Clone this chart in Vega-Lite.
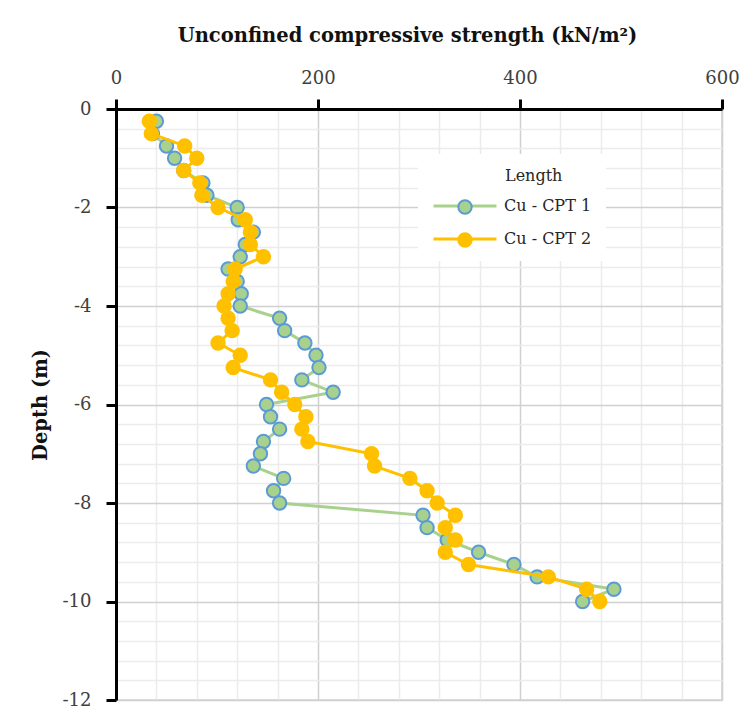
{
  "$schema": "https://vega.github.io/schema/vega-lite/v6.json",
  "autosize": "none",
  "width": 606,
  "height": 591,
  "padding": {"left": 116, "top": 109, "right": 29, "bottom": 26},
  "background": "white",
  "config": {"view": {"stroke": "#d4d4d4", "strokeWidth": 1.5}},
  "data": {"values": [
    {"series": "Cu - CPT 1", "depth": -0.25, "cu": 40},
    {"series": "Cu - CPT 1", "depth": -0.5, "cu": 36},
    {"series": "Cu - CPT 1", "depth": -0.75, "cu": 50},
    {"series": "Cu - CPT 1", "depth": -1.0, "cu": 58},
    {"series": "Cu - CPT 1", "depth": -1.25, "cu": 67},
    {"series": "Cu - CPT 1", "depth": -1.5, "cu": 86},
    {"series": "Cu - CPT 1", "depth": -1.75, "cu": 90},
    {"series": "Cu - CPT 1", "depth": -2.0, "cu": 120},
    {"series": "Cu - CPT 1", "depth": -2.25, "cu": 121},
    {"series": "Cu - CPT 1", "depth": -2.5, "cu": 136},
    {"series": "Cu - CPT 1", "depth": -2.75, "cu": 128},
    {"series": "Cu - CPT 1", "depth": -3.0, "cu": 123},
    {"series": "Cu - CPT 1", "depth": -3.25, "cu": 111},
    {"series": "Cu - CPT 1", "depth": -3.5, "cu": 120},
    {"series": "Cu - CPT 1", "depth": -3.75, "cu": 124},
    {"series": "Cu - CPT 1", "depth": -4.0, "cu": 123},
    {"series": "Cu - CPT 1", "depth": -4.25, "cu": 162},
    {"series": "Cu - CPT 1", "depth": -4.5, "cu": 167},
    {"series": "Cu - CPT 1", "depth": -4.75, "cu": 187},
    {"series": "Cu - CPT 1", "depth": -5.0, "cu": 198},
    {"series": "Cu - CPT 1", "depth": -5.25, "cu": 201},
    {"series": "Cu - CPT 1", "depth": -5.5, "cu": 184},
    {"series": "Cu - CPT 1", "depth": -5.75, "cu": 215},
    {"series": "Cu - CPT 1", "depth": -6.0, "cu": 149},
    {"series": "Cu - CPT 1", "depth": -6.25, "cu": 153},
    {"series": "Cu - CPT 1", "depth": -6.5, "cu": 162},
    {"series": "Cu - CPT 1", "depth": -6.75, "cu": 146},
    {"series": "Cu - CPT 1", "depth": -7.0, "cu": 143},
    {"series": "Cu - CPT 1", "depth": -7.25, "cu": 136},
    {"series": "Cu - CPT 1", "depth": -7.5, "cu": 166},
    {"series": "Cu - CPT 1", "depth": -7.75, "cu": 156},
    {"series": "Cu - CPT 1", "depth": -8.0, "cu": 162},
    {"series": "Cu - CPT 1", "depth": -8.25, "cu": 304},
    {"series": "Cu - CPT 1", "depth": -8.5, "cu": 308},
    {"series": "Cu - CPT 1", "depth": -8.75, "cu": 328},
    {"series": "Cu - CPT 1", "depth": -9.0, "cu": 359},
    {"series": "Cu - CPT 1", "depth": -9.25, "cu": 394},
    {"series": "Cu - CPT 1", "depth": -9.5, "cu": 417},
    {"series": "Cu - CPT 1", "depth": -9.75, "cu": 493},
    {"series": "Cu - CPT 1", "depth": -10.0, "cu": 462},
    {"series": "Cu - CPT 2", "depth": -0.25, "cu": 33},
    {"series": "Cu - CPT 2", "depth": -0.5, "cu": 35},
    {"series": "Cu - CPT 2", "depth": -0.75, "cu": 68},
    {"series": "Cu - CPT 2", "depth": -1.0, "cu": 80},
    {"series": "Cu - CPT 2", "depth": -1.25, "cu": 67},
    {"series": "Cu - CPT 2", "depth": -1.5, "cu": 83},
    {"series": "Cu - CPT 2", "depth": -1.75, "cu": 85},
    {"series": "Cu - CPT 2", "depth": -2.0, "cu": 101},
    {"series": "Cu - CPT 2", "depth": -2.25, "cu": 128},
    {"series": "Cu - CPT 2", "depth": -2.5, "cu": 133},
    {"series": "Cu - CPT 2", "depth": -2.75, "cu": 133},
    {"series": "Cu - CPT 2", "depth": -3.0, "cu": 146},
    {"series": "Cu - CPT 2", "depth": -3.25, "cu": 118},
    {"series": "Cu - CPT 2", "depth": -3.5, "cu": 116},
    {"series": "Cu - CPT 2", "depth": -3.75, "cu": 111},
    {"series": "Cu - CPT 2", "depth": -4.0, "cu": 107},
    {"series": "Cu - CPT 2", "depth": -4.25, "cu": 111},
    {"series": "Cu - CPT 2", "depth": -4.5, "cu": 115},
    {"series": "Cu - CPT 2", "depth": -4.75, "cu": 101},
    {"series": "Cu - CPT 2", "depth": -5.0, "cu": 123},
    {"series": "Cu - CPT 2", "depth": -5.25, "cu": 116},
    {"series": "Cu - CPT 2", "depth": -5.5, "cu": 153},
    {"series": "Cu - CPT 2", "depth": -5.75, "cu": 164},
    {"series": "Cu - CPT 2", "depth": -6.0, "cu": 177},
    {"series": "Cu - CPT 2", "depth": -6.25, "cu": 188},
    {"series": "Cu - CPT 2", "depth": -6.5, "cu": 184},
    {"series": "Cu - CPT 2", "depth": -6.75, "cu": 190},
    {"series": "Cu - CPT 2", "depth": -7.0, "cu": 253},
    {"series": "Cu - CPT 2", "depth": -7.25, "cu": 256},
    {"series": "Cu - CPT 2", "depth": -7.5, "cu": 291},
    {"series": "Cu - CPT 2", "depth": -7.75, "cu": 308},
    {"series": "Cu - CPT 2", "depth": -8.0, "cu": 318},
    {"series": "Cu - CPT 2", "depth": -8.25, "cu": 336},
    {"series": "Cu - CPT 2", "depth": -8.5, "cu": 326},
    {"series": "Cu - CPT 2", "depth": -8.75, "cu": 336},
    {"series": "Cu - CPT 2", "depth": -9.0, "cu": 326},
    {"series": "Cu - CPT 2", "depth": -9.25, "cu": 349},
    {"series": "Cu - CPT 2", "depth": -9.5, "cu": 428},
    {"series": "Cu - CPT 2", "depth": -9.75, "cu": 466},
    {"series": "Cu - CPT 2", "depth": -10.0, "cu": 479}
  ]},
  "encoding": {
    "x": {
      "field": "cu", "type": "quantitative",
      "scale": {"domain": [0, 600], "nice": false, "zero": false},
      "axis": {
        "orient": "top",
        "title": "Unconfined compressive strength (kN/m²)",
        "titleFont": "DejaVu Serif", "titleFontWeight": "bold", "titleFontSize": 19.5, "titleColor": "#111111", "titlePadding": 24, "titleX": 291,
        "values": [0, 40, 80, 120, 160, 200, 240, 280, 320, 360, 400, 440, 480, 520, 560, 600],
        "labelExpr": "datum.value % 200 === 0 ? '' + datum.value : ''",
        "labelFont": "DejaVu Serif", "labelFontSize": 18, "labelColor": "#404040", "labelPadding": 12,
        "labelOverlap": false, "labelFlush": false,
        "domainColor": "#000000", "domainWidth": 3,
        "tickSize": 10, "tickWidth": 3,
        "tickColor": {"condition": {"test": "datum.value % 200 === 0", "value": "#000000"}, "value": "transparent"},
        "grid": true,
        "gridColor": {"condition": {"test": "datum.value % 200 === 0", "value": "#d0d0d0"}, "value": "#ececec"},
        "gridWidth": 1.5
      }
    },
    "y": {
      "field": "depth", "type": "quantitative",
      "scale": {"domain": [-12, 0], "nice": false, "zero": false},
      "axis": {
        "title": "Depth (m)",
        "titleFont": "DejaVu Serif", "titleFontWeight": "bold", "titleFontSize": 19.5, "titleColor": "#111111", "titlePadding": 12,
        "values": [0, -0.4, -0.8, -1.2, -1.6, -2, -2.4, -2.8, -3.2, -3.6, -4, -4.4, -4.8, -5.2, -5.6, -6, -6.4, -6.8, -7.2, -7.6, -8, -8.4, -8.8, -9.2, -9.6, -10, -10.4, -10.8, -11.2, -11.6, -12],
        "labelExpr": "abs(round(datum.value * 10)) % 20 === 0 ? '' + round(datum.value) : ''",
        "labelFont": "DejaVu Serif", "labelFontSize": 18, "labelColor": "#404040", "labelPadding": 15,
        "labelOverlap": false, "labelFlush": false,
        "domainColor": "#000000", "domainWidth": 3,
        "tickSize": 10, "tickWidth": 3,
        "tickColor": {"condition": {"test": "abs(round(datum.value * 10)) % 20 === 0", "value": "#000000"}, "value": "transparent"},
        "grid": true,
        "gridColor": {"condition": {"test": "abs(round(datum.value * 10)) % 20 === 0", "value": "#d0d0d0"}, "value": "#ececec"},
        "gridWidth": 1.5
      }
    },
    "order": {"field": "depth", "sort": "descending"}
  },
  "layer": [
    {
      "transform": [{"filter": "datum.series === 'Cu - CPT 1'"}],
      "mark": {"type": "line", "strokeWidth": 3},
      "encoding": {
        "color": {
          "field": "series", "type": "nominal",
          "scale": {"domain": ["Cu - CPT 1", "Cu - CPT 2"], "range": ["#a9d18e", "#ffc000"]},
          "legend": {
            "title": "Length", "orient": "none", "legendX": 302, "legendY": 45,
            "symbolType": "stroke", "symbolSize": 3969, "symbolStrokeWidth": 3, "clipHeight": 16,
            "labelFont": "DejaVu Serif", "labelFontSize": 16, "labelColor": "#262626", "labelOffset": 6,
            "titleFont": "DejaVu Serif", "titleFontSize": 16, "titleFontWeight": "normal", "titleColor": "#262626", "titlePadding": 14,
            "rowPadding": 17, "padding": 14, "fillColor": "white",
            "encode": {"title": {"update": {"dx": {"value": 73}}}}
          }
        }
      }
    },
    {
      "transform": [{"filter": "datum.series === 'Cu - CPT 1'"}],
      "mark": {"type": "point", "filled": true, "size": 180, "strokeWidth": 2, "opacity": 1},
      "encoding": {
        "fill": {
          "field": "series", "type": "nominal",
          "scale": {"range": ["#a9d18e", "#ffc000"]},
          "legend": {
            "title": null, "orient": "none", "legendX": 327, "legendY": 76,
            "symbolType": "circle", "symbolSize": 180, "symbolStrokeWidth": 2, "symbolOpacity": 1, "clipHeight": 16,
            "labelExpr": "''", "labelFontSize": 16, "labelOffset": 0,
            "rowPadding": 17, "padding": 14
          }
        },
        "stroke": {
          "field": "series", "type": "nominal",
          "scale": {"range": ["#5b9bd5", "#ffc000"]},
          "legend": {
            "title": null, "orient": "none", "legendX": 327, "legendY": 76,
            "symbolType": "circle", "symbolSize": 180, "symbolStrokeWidth": 2, "symbolOpacity": 1, "clipHeight": 16,
            "labelExpr": "''", "labelFontSize": 16, "labelOffset": 0,
            "rowPadding": 17, "padding": 14
          }
        }
      }
    },
    {
      "transform": [{"filter": "datum.series === 'Cu - CPT 2'"}],
      "mark": {"type": "line", "strokeWidth": 3},
      "encoding": {"color": {"field": "series", "type": "nominal"}}
    },
    {
      "transform": [{"filter": "datum.series === 'Cu - CPT 2'"}],
      "mark": {"type": "point", "filled": true, "size": 180, "strokeWidth": 2, "opacity": 1},
      "encoding": {
        "fill": {"field": "series", "type": "nominal"},
        "stroke": {"field": "series", "type": "nominal"}
      }
    }
  ]
}
